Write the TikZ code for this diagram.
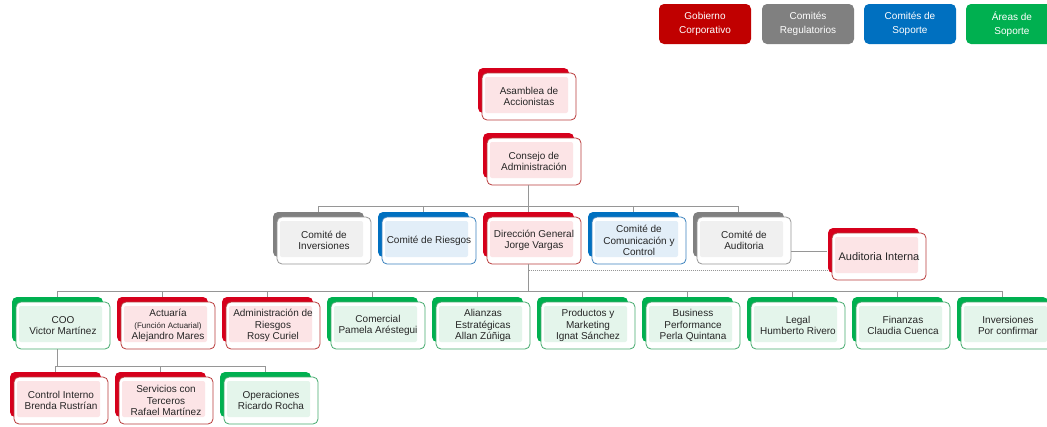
\documentclass[tikz,border=0pt]{standalone}
\usepackage{fontspec}
\setmainfont{Liberation Sans}
\definecolor{redleg}{RGB}{192,0,0}
\definecolor{grayleg}{RGB}{128,128,128}
\definecolor{blueleg}{RGB}{0,112,192}
\definecolor{greenleg}{RGB}{0,176,80}
\definecolor{redback}{RGB}{214,0,28}
\definecolor{redborder}{RGB}{185,60,60}
\definecolor{redtint}{RGB}{252,228,230}
\definecolor{grayback}{RGB}{128,128,128}
\definecolor{grayborder}{RGB}{150,150,150}
\definecolor{graytint}{RGB}{240,240,240}
\definecolor{blueback}{RGB}{0,112,192}
\definecolor{blueborder}{RGB}{60,130,190}
\definecolor{bluetint}{RGB}{226,238,248}
\definecolor{greenback}{RGB}{0,176,80}
\definecolor{greenborder}{RGB}{70,170,110}
\definecolor{greentint}{RGB}{228,245,235}
\definecolor{linegray}{RGB}{150,150,150}
\definecolor{textgray}{RGB}{38,38,38}
\tikzset{
  conn/.style={draw=linegray, line width=0.8pt},
  dotconn/.style={draw=linegray, line width=0.8pt, dash pattern=on 1pt off 1pt},
  front/.style={draw=#1border, fill=white, line width=0.8pt, rounded corners=5pt,
    minimum width=94pt, minimum height=47pt, inner sep=1pt, align=center,
    text=textgray, font=\fontsize{10}{11.5}\selectfont,
    path picture={\fill[#1tint, rounded corners=2pt]
      ([shift={(3pt,-4pt)}]path picture bounding box.north west) rectangle
      ([shift={(-8pt,7pt)}]path picture bounding box.south east);}},
  legend/.style={fill=#1leg, rounded corners=5pt, minimum width=92pt,
    minimum height=40pt, text=white, align=center,
    font=\fontsize{10}{14.5}\selectfont, inner sep=0pt}
}
\newcommand\obox[5]{%
  \fill[#4back, rounded corners=5pt] (#2,#3) rectangle ++(91,45);
  \node[front=#4] (#1) at (#2+51,#3+28.5) {#5};}
\begin{document}
\begin{tikzpicture}[x=1pt,y=-1pt]
\useasboundingbox (0,0) rectangle (1047,426);
% legend
\node[legend=red]   (lg1) at (705,24)  {Gobierno\\Corporativo};
\node[legend=gray]  (lg2) at (808,24)  {Comités\\Regulatorios};
\node[legend=blue]  (lg3) at (910,24)  {Comités de\\Soporte};
\node[legend=green] (lg4) at (1012,24) {Áreas de\\Soporte};
% top
\obox{asa}{478}{68}{red}{Asamblea de\\Accionistas}
\obox{cons}{483}{133}{red}{Consejo de\\Administración}
% row 2
\obox{inv}{273}{212}{gray}{Comité de\\Inversiones}
\obox{rie}{378}{212}{blue}{Comité de Riesgos}
\obox{dg}{483}{212}{red}{Dirección General\\Jorge Vargas}
\obox{cc}{588}{212}{blue}{Comité de\\Comunicación y\\Control}
\obox{aud}{693}{212}{gray}{Comité de\\Auditoria}
\obox{ai}{828}{228}{red}{\fontsize{11}{13}\selectfont Auditoria Interna}
% row 3
\obox{coo}{12}{297}{green}{COO\\Victor Martínez}
\obox{act}{117}{297}{red}{Actuaría\\{\fontsize{8}{9}\selectfont (Función Actuarial)}\\Alejandro Mares}
\obox{adm}{222}{297}{red}{Administración de\\Riesgos\\Rosy Curiel}
\obox{com}{327}{297}{green}{Comercial\\Pamela Aréstegui}
\obox{ali}{432}{297}{green}{Alianzas\\Estratégicas\\Allan Zúñiga}
\obox{pro}{537}{297}{green}{Productos y\\Marketing\\Ignat Sánchez}
\obox{bpf}{642}{297}{green}{Business\\Performance\\Perla Quintana}
\obox{lgl}{747}{297}{green}{Legal\\Humberto Rivero}
\obox{fin}{852}{297}{green}{Finanzas\\Claudia Cuenca}
\obox{invp}{957}{297}{green}{Inversiones\\Por confirmar}
% row 4
\obox{ci}{10}{372}{red}{Control Interno\\Brenda Rustrían}
\obox{ser}{115}{372}{red}{Servicios con\\Terceros\\Rafael Martínez}
\obox{ope}{220}{372}{green}{Operaciones\\Ricardo Rocha}
% connectors row 2
\draw[conn] ([xshift=-5.5pt]cons.south) -- ([shift={(-5.5pt,5pt)}]dg.north);
\draw[conn] ([shift={(-5.5pt,5pt)}]inv.north) -- ++(0,-5) -| ([shift={(-5.5pt,5pt)}]aud.north);
\foreach \n in {rie,cc} \draw[conn] ([shift={(-5.5pt,5pt)}]\n.north) -- ++(0,-5);
% auditoria interna
\coordinate (aiL) at ([xshift=-5pt]ai.west);
\coordinate (audR) at ([yshift=-11pt]aud.east);
\draw[conn] (audR) -- (audR -| aiL);
\coordinate (dgdot) at ([xshift=-5.5pt,yshift=-6pt]dg.south);
\draw[dotconn] (dgdot) -- (dgdot -| aiL);
% connectors row 3
\draw[conn] ([xshift=-5.5pt]dg.south) |- ([shift={(-5.5pt,10pt)}]coo.north);
\draw[conn] ([shift={(-5.5pt,5pt)}]coo.north) -- ++(0,-5) -| ([shift={(-5.5pt,5pt)}]invp.north);
\foreach \n in {act,adm,com,ali,pro,bpf,lgl,fin} \draw[conn] ([shift={(-5.5pt,5pt)}]\n.north) -- ++(0,-5);
% connectors row 4
\coordinate (cibus) at ([shift={(-5.5pt,10pt)}]ci.north);
\coordinate (coob) at ([xshift=-5.5pt]coo.south);
\draw[conn] (coob) -- (coob |- cibus);
\draw[conn] ([shift={(-5.5pt,5pt)}]ci.north) -- ++(0,-5) -| ([shift={(-5.5pt,5pt)}]ope.north);
\draw[conn] ([shift={(-5.5pt,5pt)}]ser.north) -- ++(0,-5);
\end{tikzpicture}
\end{document}
